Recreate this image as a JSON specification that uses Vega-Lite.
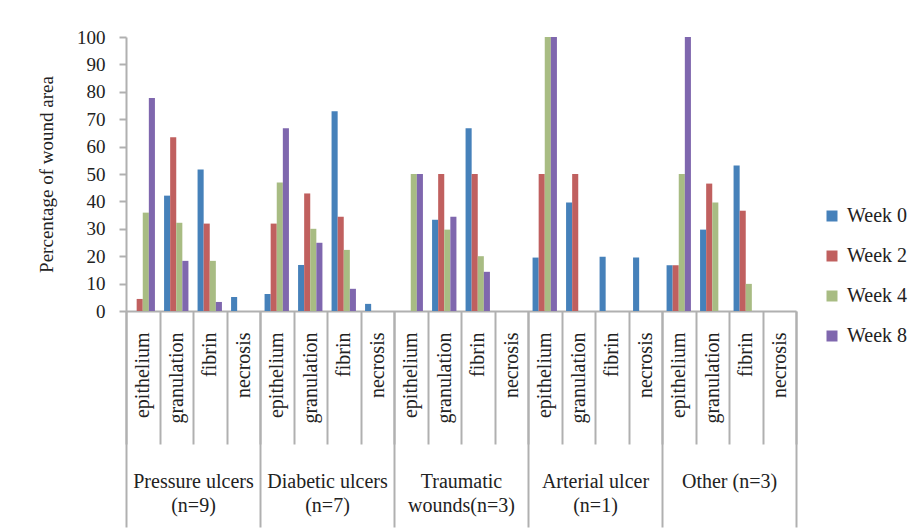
{
  "$schema": "https://vega.github.io/schema/vega-lite/v6.json",
  "width": 670,
  "height": 274,
  "padding": {"left": 37, "top": 28, "right": 0, "bottom": 0},
  "config": {
    "font": "Liberation Serif, DejaVu Serif, serif",
    "view": {"stroke": null},
    "axis": {"labelFont": "Liberation Serif, DejaVu Serif, serif", "titleFont": "Liberation Serif, DejaVu Serif, serif", "labelColor": "#222222", "titleColor": "#222222", "domainColor": "#b0b0b0", "tickColor": "#b0b0b0", "domainWidth": 2, "tickWidth": 2, "grid": false},
    "legend": {"labelFont": "Liberation Serif, DejaVu Serif, serif"}
  },
  "data": {
    "values": [
      {"cell": "P/epithelium", "group": "Pressure ulcers|(n=9)", "week": "Week 2", "value": 4.4},
      {"cell": "P/epithelium", "group": "Pressure ulcers|(n=9)", "week": "Week 4", "value": 35.9},
      {"cell": "P/epithelium", "group": "Pressure ulcers|(n=9)", "week": "Week 8", "value": 77.7},
      {"cell": "P/granulation", "group": "Pressure ulcers|(n=9)", "week": "Week 0", "value": 42.1},
      {"cell": "P/granulation", "group": "Pressure ulcers|(n=9)", "week": "Week 2", "value": 63.4},
      {"cell": "P/granulation", "group": "Pressure ulcers|(n=9)", "week": "Week 4", "value": 32.2},
      {"cell": "P/granulation", "group": "Pressure ulcers|(n=9)", "week": "Week 8", "value": 18.3},
      {"cell": "P/fibrin", "group": "Pressure ulcers|(n=9)", "week": "Week 0", "value": 51.6},
      {"cell": "P/fibrin", "group": "Pressure ulcers|(n=9)", "week": "Week 2", "value": 31.9},
      {"cell": "P/fibrin", "group": "Pressure ulcers|(n=9)", "week": "Week 4", "value": 18.3},
      {"cell": "P/fibrin", "group": "Pressure ulcers|(n=9)", "week": "Week 8", "value": 3.3},
      {"cell": "P/necrosis", "group": "Pressure ulcers|(n=9)", "week": "Week 0", "value": 5.1},
      {"cell": "D/epithelium", "group": "Diabetic ulcers|(n=7)", "week": "Week 0", "value": 6.2},
      {"cell": "D/epithelium", "group": "Diabetic ulcers|(n=7)", "week": "Week 2", "value": 31.9},
      {"cell": "D/epithelium", "group": "Diabetic ulcers|(n=7)", "week": "Week 4", "value": 46.9},
      {"cell": "D/epithelium", "group": "Diabetic ulcers|(n=7)", "week": "Week 8", "value": 66.7},
      {"cell": "D/granulation", "group": "Diabetic ulcers|(n=7)", "week": "Week 0", "value": 16.8},
      {"cell": "D/granulation", "group": "Diabetic ulcers|(n=7)", "week": "Week 2", "value": 42.9},
      {"cell": "D/granulation", "group": "Diabetic ulcers|(n=7)", "week": "Week 4", "value": 30.0},
      {"cell": "D/granulation", "group": "Diabetic ulcers|(n=7)", "week": "Week 8", "value": 24.9},
      {"cell": "D/fibrin", "group": "Diabetic ulcers|(n=7)", "week": "Week 0", "value": 72.9},
      {"cell": "D/fibrin", "group": "Diabetic ulcers|(n=7)", "week": "Week 2", "value": 34.4},
      {"cell": "D/fibrin", "group": "Diabetic ulcers|(n=7)", "week": "Week 4", "value": 22.3},
      {"cell": "D/fibrin", "group": "Diabetic ulcers|(n=7)", "week": "Week 8", "value": 8.1},
      {"cell": "D/necrosis", "group": "Diabetic ulcers|(n=7)", "week": "Week 0", "value": 2.6},
      {"cell": "T/epithelium", "group": "Traumatic|wounds(n=3)", "week": "Week 4", "value": 50},
      {"cell": "T/epithelium", "group": "Traumatic|wounds(n=3)", "week": "Week 8", "value": 50},
      {"cell": "T/granulation", "group": "Traumatic|wounds(n=3)", "week": "Week 0", "value": 33.3},
      {"cell": "T/granulation", "group": "Traumatic|wounds(n=3)", "week": "Week 2", "value": 50},
      {"cell": "T/granulation", "group": "Traumatic|wounds(n=3)", "week": "Week 4", "value": 29.7},
      {"cell": "T/granulation", "group": "Traumatic|wounds(n=3)", "week": "Week 8", "value": 34.4},
      {"cell": "T/fibrin", "group": "Traumatic|wounds(n=3)", "week": "Week 0", "value": 66.7},
      {"cell": "T/fibrin", "group": "Traumatic|wounds(n=3)", "week": "Week 2", "value": 50},
      {"cell": "T/fibrin", "group": "Traumatic|wounds(n=3)", "week": "Week 4", "value": 20},
      {"cell": "T/fibrin", "group": "Traumatic|wounds(n=3)", "week": "Week 8", "value": 14.3},
      {"cell": "A/epithelium", "group": "Arterial ulcer|(n=1)", "week": "Week 0", "value": 19.5},
      {"cell": "A/epithelium", "group": "Arterial ulcer|(n=1)", "week": "Week 2", "value": 50},
      {"cell": "A/epithelium", "group": "Arterial ulcer|(n=1)", "week": "Week 4", "value": 100},
      {"cell": "A/epithelium", "group": "Arterial ulcer|(n=1)", "week": "Week 8", "value": 100},
      {"cell": "A/granulation", "group": "Arterial ulcer|(n=1)", "week": "Week 0", "value": 39.6},
      {"cell": "A/granulation", "group": "Arterial ulcer|(n=1)", "week": "Week 2", "value": 50},
      {"cell": "A/fibrin", "group": "Arterial ulcer|(n=1)", "week": "Week 0", "value": 19.8},
      {"cell": "A/necrosis", "group": "Arterial ulcer|(n=1)", "week": "Week 0", "value": 19.5},
      {"cell": "O/epithelium", "group": "Other (n=3)", "week": "Week 0", "value": 16.7},
      {"cell": "O/epithelium", "group": "Other (n=3)", "week": "Week 2", "value": 16.7},
      {"cell": "O/epithelium", "group": "Other (n=3)", "week": "Week 4", "value": 50},
      {"cell": "O/epithelium", "group": "Other (n=3)", "week": "Week 8", "value": 100},
      {"cell": "O/granulation", "group": "Other (n=3)", "week": "Week 0", "value": 29.7},
      {"cell": "O/granulation", "group": "Other (n=3)", "week": "Week 2", "value": 46.5},
      {"cell": "O/granulation", "group": "Other (n=3)", "week": "Week 4", "value": 39.6},
      {"cell": "O/fibrin", "group": "Other (n=3)", "week": "Week 0", "value": 53.1},
      {"cell": "O/fibrin", "group": "Other (n=3)", "week": "Week 2", "value": 36.6},
      {"cell": "O/fibrin", "group": "Other (n=3)", "week": "Week 4", "value": 9.9}
    ]
  },
  "layer": [
    {
      "mark": {"type": "bar"},
      "encoding": {
        "x": {
          "field": "cell",
          "type": "nominal",
          "sort": null,
          "scale": {
            "domain": ["P/epithelium", "P/granulation", "P/fibrin", "P/necrosis",
                       "D/epithelium", "D/granulation", "D/fibrin", "D/necrosis",
                       "T/epithelium", "T/granulation", "T/fibrin", "T/necrosis",
                       "A/epithelium", "A/granulation", "A/fibrin", "A/necrosis",
                       "O/epithelium", "O/granulation", "O/fibrin", "O/necrosis"],
            "paddingInner": 0,
            "paddingOuter": 0
          },
          "axis": {
            "title": null,
            "orient": "bottom",
            "labelExpr": "split(datum.label, '/')[1]",
            "labelAngle": -90,
            "labelFontSize": 20,
            "tickBand": "extent",
            "tickSize": 133,
            "labelPadding": -112
          }
        },
        "xOffset": {
          "field": "week",
          "type": "nominal",
          "scale": {"domain": ["Week 0", "Week 2", "Week 4", "Week 8"], "paddingInner": 0, "paddingOuter": 0.75}
        },
        "y": {
          "field": "value",
          "type": "quantitative",
          "scale": {"domain": [0, 100]},
          "axis": {
            "title": "Percentage of wound area",
            "values": [0, 10, 20, 30, 40, 50, 60, 70, 80, 90, 100],
            "tickSize": 7,
            "labelPadding": 14,
            "labelFontSize": 19,
            "titleFontSize": 19,
            "titleFontWeight": "normal",
            "titlePadding": 20
          }
        },
        "color": {
          "field": "week",
          "type": "nominal",
          "scale": {"domain": ["Week 0", "Week 2", "Week 4", "Week 8"], "range": ["#4681ba", "#c0605f", "#a8bc83", "#7f67ae"]},
          "legend": {
            "title": null,
            "orient": "none",
            "legendX": 696,
            "legendY": 169,
            "padding": 0,
            "symbolType": "square",
            "symbolSize": 121,
            "symbolStrokeWidth": 0,
            "labelFont": "Liberation Serif, DejaVu Serif, serif",
            "labelFontSize": 20,
            "labelColor": "#222222",
            "labelOffset": 5,
            "rowPadding": 20
          }
        }
      }
    },
    {
      "mark": {"type": "point", "opacity": 0},
      "encoding": {
        "x": {
          "field": "group",
          "type": "nominal",
          "sort": null,
          "scale": {
            "domain": ["Pressure ulcers|(n=9)", "Diabetic ulcers|(n=7)", "Traumatic|wounds(n=3)", "Arterial ulcer|(n=1)", "Other (n=3)"],
            "paddingInner": 0,
            "paddingOuter": 0
          },
          "axis": {
            "title": null,
            "orient": "bottom",
            "domain": false,
            "labelAngle": 0,
            "labelExpr": "split(datum.label, '|')",
            "labelFontSize": 20,
            "labelLineHeight": 24,
            "tickBand": "extent",
            "tickSize": 216,
            "labelPadding": -56
          }
        }
      }
    }
  ],
  "resolve": {"scale": {"x": "independent"}}
}
